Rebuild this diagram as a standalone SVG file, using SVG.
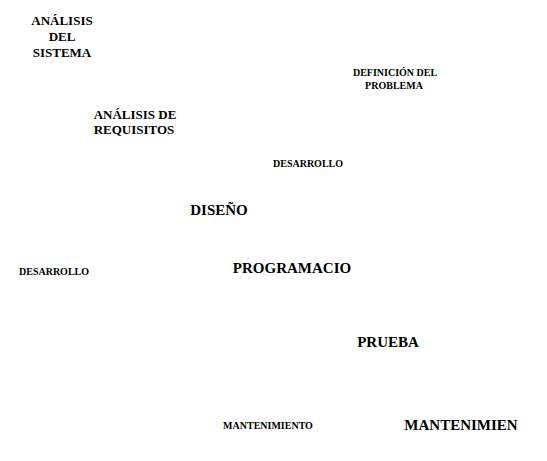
<svg xmlns="http://www.w3.org/2000/svg" width="547" height="461" viewBox="0 0 547 461">
<style>
text{font-family:"Liberation Serif","Times New Roman",serif;font-weight:bold;fill:#000;text-anchor:middle}
.s{font-size:10px}
.m{font-size:13px}
.l{font-size:15px}
</style>
<rect width="547" height="461" fill="#fff"/>
<g id="connectors"/>
<g id="analisis-sistema"><text class="m" x="62" y="25">ANÁLISIS</text><text class="m" x="62" y="41">DEL</text><text class="m" x="62" y="57">SISTEMA</text></g>
<g id="definicion-problema"><text class="s" x="395" y="76">DEFINICIÓN DEL</text><text class="s" x="394" y="89">PROBLEMA</text></g>
<g id="analisis-requisitos"><text class="m" x="135" y="119">ANÁLISIS DE</text><text class="m" x="134" y="134">REQUISITOS</text></g>
<g id="desarrollo-1"><text class="s" x="308" y="167">DESARROLLO</text></g>
<g id="diseno"><text class="l" x="219" y="215">DISEÑO</text></g>
<g id="desarrollo-2"><text class="s" x="54" y="275">DESARROLLO</text></g>
<g id="programacion"><text class="l" x="292" y="273">PROGRAMACIO</text></g>
<g id="prueba"><text class="l" x="388" y="347">PRUEBA</text></g>
<g id="mantenimiento-1"><text class="s" x="268" y="429">MANTENIMIENTO</text></g>
<g id="mantenimiento-2"><text class="l" x="461" y="430">MANTENIMIEN</text></g>
</svg>
